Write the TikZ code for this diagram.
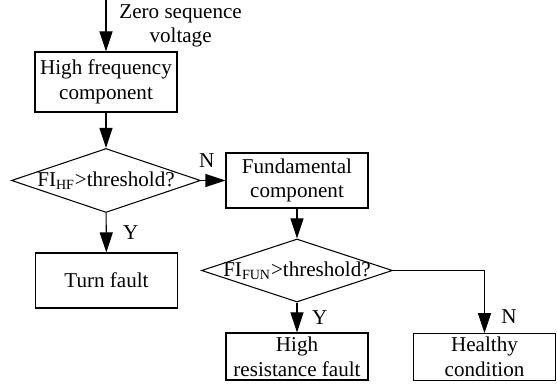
\documentclass[tikz,border=0pt]{standalone}
\usepackage{fontspec}
\setmainfont{Liberation Serif}
\usetikzlibrary{shapes.geometric,arrows.meta,positioning}

\begin{document}
\begin{tikzpicture}[
        font=\fontsize{12}{14}\selectfont,
        block/.style={rectangle, draw, line width=0.6pt, minimum width=2.84cm, minimum height=1.1cm, inner sep=2pt, align=center},
        decision/.style={diamond, draw, line width=0.6pt, minimum width=3.78cm, minimum height=1.28cm, inner sep=0pt},
        arrow/.style={-{Triangle[length=0.4cm,width=0.26cm]}, line width=0.6pt}
    ]
        \useasboundingbox (0,0) rectangle (11.14,7.8);
        \coordinate (input) at (2.12,7.8);
        \node[block, minimum height=1.2cm] (hfc) at (2.12,6.16) {High frequency\\component};
        \node[decision, label=center:{FI\textsubscript{HF}>threshold?}] (hfcheck) at (2.12,4.19) {};
        \node[block] (fun) at (5.94,4.19) {Fundamental\\component};
        \node[block] (turn) at (2.13,2.19) {Turn fault};
        \node[decision, minimum width=3.82cm, minimum height=1.26cm, label=center:{FI\textsubscript{FUN}>threshold?}] (funcheck) at (5.94,2.39) {};
        \node[block, minimum height=0.94cm] (hrf) at (5.94,0.67) {High\\resistance fault};
        \node[block, minimum height=0.93cm] (healthy) at (9.69,0.66) {Healthy\\condition};

        \draw[arrow] (input) -- node[right=4pt, align=center] {Zero sequence\\voltage} (hfc);
        \draw[arrow] (hfc) -- (hfcheck);
        \draw[arrow] (hfcheck.east) -- node[above=4pt, pos=0.23] {N} (fun.west);
        \draw[arrow] (hfcheck) -- node[right=6pt] {Y} (turn);
        \draw[arrow] (fun) -- (funcheck);
        \draw[arrow] (funcheck) -- node[right=5pt] {Y} (hrf);
        \draw[arrow] (funcheck.east) -| node[right=6pt, pos=0.87] {N} (healthy);
    \end{tikzpicture}
\end{document}
